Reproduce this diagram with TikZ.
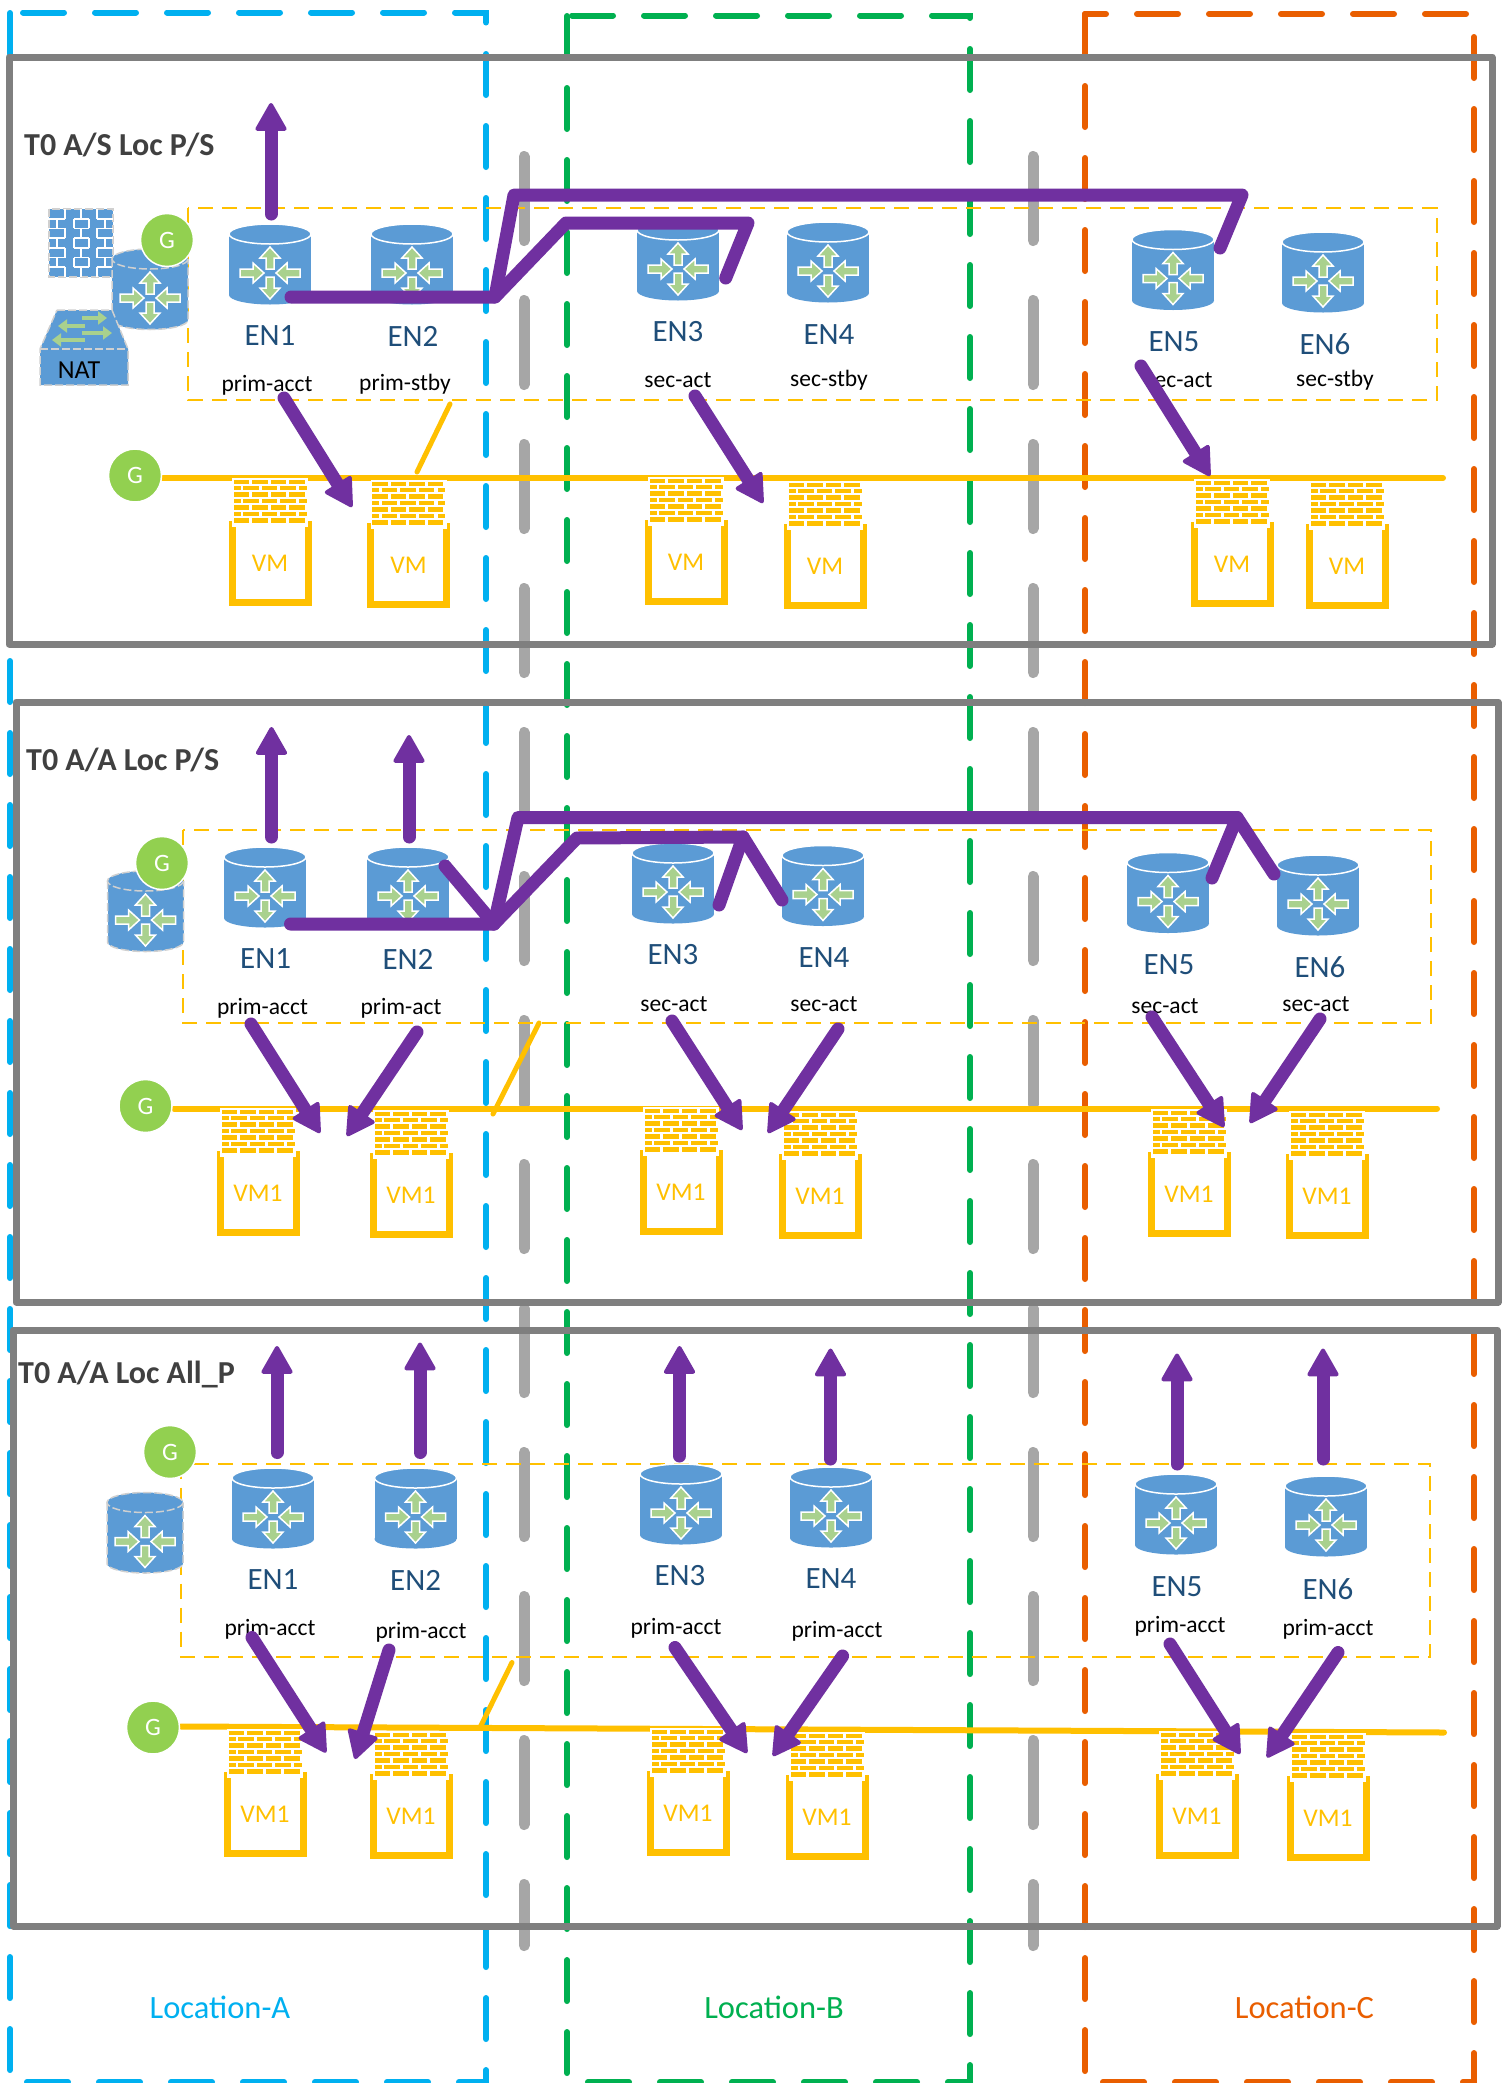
\documentclass[tikz,border=0pt]{standalone}
\usepackage{fontspec}
\setmainfont{Carlito}
\usetikzlibrary{arrows.meta}
\definecolor{locA}{HTML}{00B0F0}
\definecolor{locB}{HTML}{00B050}
\definecolor{locC}{HTML}{E95E00}
\definecolor{panelgray}{HTML}{7F7F7F}
\definecolor{sepgray}{HTML}{A6A6A6}
\definecolor{enblue}{HTML}{5B9BD5}
\definecolor{engreen}{HTML}{A9D18E}
\definecolor{entext}{HTML}{1F4E79}
\definecolor{gold}{HTML}{FFC000}
\definecolor{purp}{HTML}{7030A0}
\definecolor{ggreen}{HTML}{92D050}
\definecolor{ghost}{HTML}{D0D0D0}
\definecolor{titlegray}{HTML}{404040}
\newcommand{\fs}[1]{\fontsize{#1}{#1}\selectfont}
\tikzset{
  x=1pt,y=-1pt,
  locline/.style={line width=6pt,line cap=round,line join=miter,dash pattern=on 41pt off 31pt},
  sepline/.style={draw=sepgray,line width=11pt,line cap=round,dash pattern=on 84pt off 60pt},
  panel/.style={draw=panelgray,line width=7pt,line join=round},
  zone/.style={draw=gold,line width=2pt,dash pattern=on 15pt off 9pt},
  bus/.style={draw=gold,line width=6pt,line cap=round},
  tap/.style={draw=gold,line width=5pt,line cap=round},
  vmframe/.style={draw=gold,line width=7pt,line join=miter},
  gcirc/.style={circle,fill=ggreen,draw=white,line width=1.5pt,minimum size=53pt,inner sep=0pt,text=white,font=\fs{25}},
  entitle/.style={text=entext,font=\fs{31},inner sep=0pt},
  role/.style={text=black,font=\fs{23.5},inner sep=0pt},
  vmtext/.style={text=gold,font=\fs{25.5},inner sep=0pt},
  paneltitle/.style={text=titlegray,font=\bfseries\fs{32},inner sep=0pt,anchor=west},
  loctext/.style={font=\fs{32.5},inner sep=0pt},
  purpline/.style={draw=purp,line width=13pt,line cap=round,line join=round},
  purparrow/.style={purpline,-{Triangle[length=30pt,width=33pt,round,line width=4pt]}},
  enarrows/.pic={
    \begin{scope}[fill=engreen,draw=white,line width=1.5pt,line join=miter]
      \filldraw (0,-26)--(10,-15)--(4,-15)--(4,-4)--(-4,-4)--(-4,-15)--(-10,-15)--cycle;
      \filldraw (0,26)--(10,15)--(4,15)--(4,4)--(-4,4)--(-4,15)--(-10,15)--cycle;
      \filldraw (-6,0)--(-17,-10)--(-17,-4)--(-30,-4)--(-30,4)--(-17,4)--(-17,10)--cycle;
      \filldraw (6,0)--(17,-10)--(17,-4)--(30,-4)--(30,4)--(17,4)--(17,10)--cycle;
    \end{scope}
  },
  encyl/.pic={
    \fill[enblue] (-41,-30) rectangle (41,31);
    \fill[enblue] (0,31) ellipse [x radius=41,y radius=9.5];
    \filldraw[fill=enblue,draw=white,line width=1.5pt] (0,-30) ellipse [x radius=41,y radius=10];
    \pic at (0,9) {enarrows};
  },
  encylghost/.pic={
    \fill[enblue] (-38,-30) rectangle (38,31);
    \fill[enblue] (0,31) ellipse [x radius=38,y radius=9.5];
    \draw[ghost,line width=1.5pt,dash pattern=on 8pt off 3pt] (-38,-30)--(-38,31) arc[start angle=180,end angle=0,x radius=38,y radius=9.5]--(38,-30);
    \filldraw[fill=enblue,draw=ghost,line width=1.5pt,dash pattern=on 8pt off 3pt] (0,-30) ellipse [x radius=38,y radius=10];
    \pic at (0,9) {enarrows};
  },
  brickwall/.pic={
    \fill[white] (-38,-1.5) rectangle (38,47.5);
    \foreach \r in {0,2,4,6}{
      \foreach \c in {0,1,2,3}{
        \fill[gold] ({-36.5+18.5*\c},{0.5+6.45*\r}) rectangle ++(15.5,4.3);
      }
    }
    \foreach \r in {1,3,5}{
      \fill[gold] (-36.5,{0.5+6.45*\r}) rectangle ++(7,4.3);
      \foreach \c in {0,1,2}{
        \fill[gold] ({-27+18.5*\c},{0.5+6.45*\r}) rectangle ++(15.5,4.3);
      }
      \fill[gold] (29,{0.5+6.45*\r}) rectangle ++(7.5,4.3);
    }
  },
  bluewall/.pic={
    \filldraw[fill=enblue,draw=ghost,line width=1.5pt,dash pattern=on 8pt off 3pt] (0,0) rectangle (64,68);
    \begin{scope}[draw=white,line width=1.8pt]
      \foreach \r in {1,2,3,4,5,6}{\draw (0,{9.7*\r}) -- (16,{9.7*\r});\draw (25,{9.7*\r}) -- (40,{9.7*\r});\draw (48,{9.7*\r}) -- (64,{9.7*\r});}
      \foreach \r in {0,2,4,6}{\draw (16,{9.7*\r}) -- (16,{9.7*\r+9.7});\draw (48,{9.7*\r}) -- (48,{9.7*\r+9.7});\draw (32,{9.7*\r}) -- (32,{9.7*\r+9.7});}
      \foreach \r in {1,3,5}{\draw (25,{9.7*\r}) -- (25,{9.7*\r+9.7});\draw (40,{9.7*\r}) -- (40,{9.7*\r+9.7});\draw (8,{9.7*\r}) -- (8,{9.7*\r+9.7});\draw (56,{9.7*\r}) -- (56,{9.7*\r+9.7});}
    \end{scope}
  },
  natbox/.pic={
    \filldraw[fill=enblue,draw=ghost,line width=1.5pt,dash pattern=on 8pt off 3pt] (57,310)--(112,310)--(128,349)--(128,385)--(40,385)--(40,349)--cycle;
    \draw[ghost,line width=1.5pt,dash pattern=on 8pt off 3pt] (40,349)--(128,349);
    \begin{scope}[draw=engreen,line width=3.5pt,-{Triangle[length=9pt,width=13pt]}]
      \draw (82,318)--(107,318);
      \draw (85,326)--(58,326);
      \draw (82,333)--(112,333);
      \draw (85,340)--(52,340);
    \end{scope}
  },
}
% one router: name, x, y, label, label x, label y, role, role x, role y
\newcommand{\router}[9]{
  \pic at (#2,#3) {encyl};
  \node[entitle] (#1-name) at (#5,#6) {#4};
  \node[role] (#1-role) at (#8,#9) {#7};
}
% one VM with its firewall: name, centre x, top y, label
\newcommand{\vmunit}[4]{
  \begin{scope}[shift={(#2,#3)}]
    \coordinate (#1-a) at (-38,42);
    \coordinate (#1-b) at (-38,123);
    \coordinate (#1-c) at (38,123);
    \coordinate (#1-d) at (38,42);
    \draw[vmframe] (#1-a)--(#1-b)--(#1-c)--(#1-d);
    \pic at (0,0) {brickwall};
    \node[vmtext] (#1) at (0,84) {#4};
  \end{scope}
}
\newcommand{\parrow}[5]{
  \coordinate (#1-s) at (#2,#3);
  \coordinate (#1-t) at (#4,#5);
  \draw[purparrow] (#1-s)--(#1-t);
}
\begin{document}
\begin{tikzpicture}
\useasboundingbox[fill=white] (0,0) rectangle (1502,2083);

% separators between locations
\draw[sepline] (524,156.5)--(524,1945.5);
\draw[sepline] (1033,156.5)--(1033,1945.5);

% location outlines
\begin{scope}[locline,draw=locA]
  \draw (10,13)--(10,2082);
  \draw (23,12.5)--(486,12.5)--(486,23);
  \draw (486,54)--(486,2082);
  \draw (27,2082)--(486,2082);
\end{scope}
\begin{scope}[locline,draw=locB]
  \draw (567,16)--(567,2082);
  \draw (572,15.5)--(970,15.5)--(970,18);
  \draw (970,49)--(970,2082);
  \draw (588,2082)--(970,2082);
\end{scope}
\begin{scope}[locline,draw=locC]
  \draw (1085,14)--(1085,2082);
  \draw[dash phase=20pt] (1085,14)--(1474,14);
  \draw (1474,37)--(1474,2082);
  \draw (1103,2082)--(1474,2082);
\end{scope}

% panels
\draw[panel] (9,57) rectangle (1492,644);
\draw[panel] (16,702) rectangle (1498,1302);
\draw[panel] (13,1330) rectangle (1497,1926);

% zones
\draw[zone] (188,208) rectangle (1436.5,400);
\draw[zone] (183,830) rectangle (1431,1023);
\draw[zone] (181,1463.5) rectangle (1430,1656.5);

% titles and location names
\node[paneltitle] (t1) at (24,145) {T0 A/S Loc P/S};
\node[paneltitle] (t2) at (26,760) {T0 A/A Loc P/S};
\node[paneltitle] (t3) at (18,1374) {T0 A/A Loc All\_P};
\node[loctext,text=locA] (la) at (220,2007) {Location-A};
\node[loctext,text=locB] (lb) at (774,2007) {Location-B};
\node[loctext,text=locC] (lc) at (1304.5,2007) {Location-C};

% ===== panel 1 =====
\coordinate (b1l) at (162,478); \coordinate (b1r) at (1443,478);
\draw[bus] (b1l)--(b1r);
\coordinate (tap1a) at (417,472); \coordinate (tap1b) at (450,404);
\draw[tap] (tap1a)--(tap1b);
\pic at (49,209) {bluewall};
\pic at (150,289) {encylghost};
\pic at (0,0) {natbox};
\node[text=black,font=\fs{26},inner sep=0pt] (nat) at (79,370) {NAT};
\node[gcirc] (g1a) at (167,240) {G};
\node[gcirc] (g1b) at (135,475.5) {G};
\router{a1}{270}{264}{EN1}{270}{336}{prim-acct}{267}{385}
\router{a2}{412}{264}{EN2}{413}{336}{prim-stby}{405}{384}
\router{a3}{678}{260}{EN3}{678}{332}{sec-act}{678}{380}
\router{a4}{828}{262}{EN4}{829}{335}{sec-stby}{829}{380}
\router{a5}{1173}{269.5}{EN5}{1174}{342}{sec-act}{1179}{380}
\router{a6}{1323}{272}{EN6}{1325}{344}{sec-stby}{1335}{380}
\vmunit{av1}{270}{479}{VM}
\vmunit{av2}{408.5}{481}{VM}
\vmunit{av3}{686}{478}{VM}
\vmunit{av4}{825}{482}{VM}
\vmunit{av5}{1232}{480}{VM}
\vmunit{av6}{1347}{482}{VM}

% ===== panel 2 =====
\coordinate (b2l) at (174,1108.5); \coordinate (b2r) at (1437,1108.5);
\draw[bus] (b2l)--(b2r);
\coordinate (tap2a) at (493,1114); \coordinate (tap2b) at (539,1023);
\draw[tap] (tap2a)--(tap2b);
\pic at (145.5,911) {encylghost};
\node[gcirc] (g2a) at (162,863) {G};
\node[gcirc] (g2b) at (145.5,1106) {G};
\router{b1}{265}{887}{EN1}{265.6}{959}{prim-acct}{262.5}{1008}
\router{b2}{408}{887}{EN2}{408}{959}{prim-act}{401}{1008}
\router{b3}{673}{883}{EN3}{673}{955}{sec-act}{674}{1004}
\router{b4}{823}{885.5}{EN4}{824}{958}{sec-act}{824}{1004}
\router{b5}{1168}{892.5}{EN5}{1169}{964.5}{sec-act}{1165}{1006.5}
\router{b6}{1318}{895}{EN6}{1320}{967}{sec-act}{1316}{1004}
\vmunit{bv1}{258}{1109}{VM1}
\vmunit{bv2}{411}{1111}{VM1}
\vmunit{bv3}{681}{1108}{VM1}
\vmunit{bv4}{820}{1112}{VM1}
\vmunit{bv5}{1189}{1110}{VM1}
\vmunit{bv6}{1327}{1112}{VM1}

% ===== panel 3 =====
\coordinate (b3l) at (181,1726.5); \coordinate (b3r) at (1444,1732.5);
\draw[bus] (b3l)--(b3r);
\coordinate (tap3a) at (480,1727.5); \coordinate (tap3b) at (512,1662.5);
\draw[tap] (tap3a)--(tap3b);
\pic at (145,1532.5) {encylghost};
\node[gcirc] (g3a) at (170,1452) {G};
\node[gcirc] (g3b) at (153,1727.5) {G};
\router{c1}{273}{1508}{EN1}{273}{1580}{prim-acct}{270}{1629.5}
\router{c2}{415.5}{1508}{EN2}{415.6}{1580}{prim-acct}{421}{1632.5}
\router{c3}{681}{1504}{EN3}{680}{1576}{prim-acct}{676}{1628}
\router{c4}{831}{1507}{EN4}{831}{1579}{prim-acct}{837}{1631}
\router{c5}{1176}{1514}{EN5}{1177}{1586.5}{prim-acct}{1180}{1626.5}
\router{c6}{1326}{1516}{EN6}{1328}{1589}{prim-acct}{1328}{1629.5}
\vmunit{cv1}{265}{1730}{VM1}
\vmunit{cv2}{411}{1732}{VM1}
\vmunit{cv3}{688}{1729}{VM1}
\vmunit{cv4}{827}{1733}{VM1}
\vmunit{cv5}{1197}{1732}{VM1}
\vmunit{cv6}{1328}{1734}{VM1}

% ===== purple traffic =====
% panel 1
\parrow{pa0}{271}{214}{271}{103}
\coordinate (pa1) at (291,297); \coordinate (pa2) at (495,297);
\coordinate (pa3) at (514,195); \coordinate (pa4) at (1242,195); \coordinate (pa5) at (1220,248);
\coordinate (pa6) at (566,223); \coordinate (pa7) at (748,223); \coordinate (pa8) at (725.7,278);
\draw[purpline] (pa1)--(pa2)--(pa3)--(pa4)--(pa5);
\draw[purpline] (pa2)--(pa6)--(pa7)--(pa8);
\parrow{pa9}{284}{398}{352}{507}
\parrow{pa10}{695}{396}{763}{503}
\parrow{pa11}{1141}{366}{1210}{476}
% panel 2
\parrow{pb0}{271.5}{837}{271.5}{727}
\parrow{pb1}{409}{837}{409}{735}
\coordinate (pb2) at (290.5,924); \coordinate (pb3) at (494,924);
\coordinate (pb4) at (518,817.5); \coordinate (pb5) at (1237,817.5); \coordinate (pb6) at (1212,878); \coordinate (pb7) at (1274,874);
\coordinate (pb8) at (577,838); \coordinate (pb9) at (743,837); \coordinate (pb10) at (719,905); \coordinate (pb11) at (782,900);
\coordinate (pb12) at (445,866);
\draw[purpline] (pb2)--(pb3)--(pb4)--(pb5)--(pb6);
\draw[purpline] (pb5)--(pb7);
\draw[purpline] (pb3)--(pb8)--(pb9)--(pb10);
\draw[purpline] (pb9)--(pb11);
\draw[purpline] (pb12)--(pb3);
\parrow{pb13}{251}{1024}{320}{1133}
\parrow{pb14}{417}{1032}{347}{1136}
\parrow{pb15}{672}{1021}{742}{1130}
\parrow{pb16}{838}{1029}{768}{1133}
\parrow{pb17}{1152}{1017}{1224}{1127}
\parrow{pb18}{1320}{1019}{1250}{1123}
% panel 3
\parrow{pc0}{277}{1452.5}{277}{1346}
\parrow{pc1}{420}{1452.5}{420}{1342.5}
\parrow{pc2}{679.5}{1456}{679.5}{1346}
\parrow{pc3}{830.5}{1459}{830.5}{1348.5}
\parrow{pc4}{1177}{1464}{1177}{1353.5}
\parrow{pc5}{1323}{1459}{1323}{1348.5}
\parrow{pc6}{252}{1637.5}{326}{1752.5}
\parrow{pc7}{389}{1650}{355}{1759}
\parrow{pc8}{675}{1647.5}{747}{1753}
\parrow{pc9}{842.6}{1656}{773}{1756}
\parrow{pc10}{1170}{1644}{1240}{1754}
\parrow{pc11}{1338}{1652.5}{1267}{1757.5}
\end{tikzpicture}
\end{document}
